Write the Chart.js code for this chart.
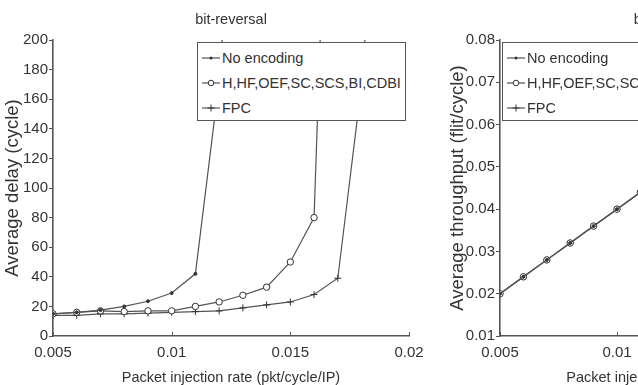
<!DOCTYPE html>
<html>
<head>
<meta charset="utf-8">
<script src="https://cdn.jsdelivr.net/npm/chart.js@4.4.1/dist/chart.umd.min.js"></script>
<style>
  html, body { margin: 0; padding: 0; background: #fff; }
  body { width: 638px; height: 385px; overflow: hidden; position: relative; }
  .wrap { position: absolute; top: 0; }
  #leftWrap { left: 0; width: 462px; height: 400px; }
  #rightWrap { left: 400px; width: 539px; height: 400px; }
  .legend {
    position: absolute;
    top: 42px;
    width: 207px;
    height: 75px;
    padding-top: 2px;
    background: #fff;
    border: 1.5px solid #555;
    box-sizing: content-box;
    font-family: "Liberation Sans", Arial, sans-serif;
    font-size: 14.5px;
    color: #333;
  }
  .legend .row { height: 25px; display: flex; align-items: center; white-space: nowrap; }
  .legend svg { margin-left: 4px; margin-right: 2px; flex: none; }
</style>
</head>
<body>
<div class="wrap" id="leftWrap"><canvas id="delayChart" width="462" height="400"></canvas></div>
<div class="wrap" id="rightWrap"><canvas id="thrChart" width="539" height="400"></canvas></div>
<div class="legend" id="legendLeft" style="left:197px"></div>
<div class="legend" id="legendRight" style="left:502px"></div>
<script>
const seriesNames = ["No encoding", "H,HF,OEF,SC,SCS,BI,CDBI", "FPC"];

// left panel: average delay (cycle) vs injection rate
const rateNoEnc = [0.005, 0.006, 0.007, 0.008, 0.009, 0.010, 0.011, 0.012, 0.013];
const delayNoEnc = [15, 16, 17.5, 20, 23.5, 29, 42, 172, 400];
const rateCoded = [0.005, 0.006, 0.007, 0.008, 0.009, 0.010, 0.011, 0.012, 0.013, 0.014, 0.015, 0.016, 0.017];
const delayCoded = [15, 16, 17, 16.5, 17, 17, 20, 23, 27.5, 33, 50, 80, 550];
const rateFpc = [0.005, 0.006, 0.007, 0.008, 0.009, 0.010, 0.011, 0.012, 0.013, 0.014, 0.015, 0.016, 0.017, 0.018, 0.019];
const delayFpc = [14, 14, 15, 15, 15.5, 16, 16.5, 17, 19, 21, 23, 28, 39, 170, 380];

// right panel: average throughput (flit/cycle), only the left part is visible
const rateThr = [0.005, 0.006, 0.007, 0.008, 0.009, 0.010, 0.011];
const thrNoEnc = [0.020, 0.024, 0.028, 0.032, 0.036, 0.040, 0.044];
const thrCoded = [0.020, 0.024, 0.028, 0.032, 0.036, 0.040, 0.044];
const thrFpc = [0.020, 0.024, 0.028, 0.032, 0.036, 0.040, 0.044];

const delayTicks = [0, 200, 20];
const thrTicks = [0.01, 0.08, 0.01];
const rateTicks = [0.005, 0.02, 0.005];

const AXIS = "#555";
const LINE = "#555";
const TEXT = "#333";
const FONT = "'Liberation Sans', Arial, sans-serif";

const markers = [
  { pointStyle: "circle", pointRadius: 1.5, pointBackgroundColor: "#333" },
  { pointStyle: "circle", pointRadius: 3.2, pointBackgroundColor: "#fff" },
  { pointStyle: "cross", pointRadius: 3.5, pointBackgroundColor: "#333" },
];

function pairs(xs, ys) {
  return xs.map((x, i) => ({ x, y: ys[i] }));
}

function makeDataset(i, xs, ys) {
  return {
    label: seriesNames[i],
    data: pairs(xs, ys),
    showLine: true,
    borderColor: LINE,
    borderWidth: 1.2,
    pointBorderColor: "#333",
    pointBorderWidth: 1,
    ...markers[i],
  };
}

const innerTicks = {
  id: "innerTicks",
  afterDraw(chart) {
    const sx = chart.scales.x;
    const ctx = chart.ctx;
    ctx.save();
    ctx.strokeStyle = AXIS;
    ctx.lineWidth = 1;
    for (const t of sx.ticks) {
      const px = Math.round(sx.getPixelForValue(t.value)) + 0.5;
      ctx.beginPath();
      ctx.moveTo(px, sx.top);
      ctx.lineTo(px, sx.top - 4);
      ctx.stroke();
    }
    ctx.restore();
  },
};

function buildOptions(cfg) {
  return {
    responsive: false,
    animation: false,
    layout: { padding: 0 },
    plugins: {
      legend: { display: false },
      tooltip: { enabled: false },
      title: {
        display: true,
        text: "bit-reversal",
        color: TEXT,
        font: { family: FONT, size: 14.5, weight: "normal" },
        padding: { top: 11, bottom: 11.6 },
      },
    },
    scales: {
      x: {
        type: "linear",
        min: rateTicks[0],
        max: rateTicks[1],
        afterFit: (s) => { s.height = 64; },
        afterBuildTicks: (s) => {
          const out = [];
          for (let v = rateTicks[0]; v <= rateTicks[1] + 1e-9; v += rateTicks[2]) out.push({ value: +v.toFixed(4) });
          s.ticks = out;
        },
        border: { display: true, color: AXIS, width: 1.6 },
        grid: { drawOnChartArea: false, drawTicks: false },
        ticks: {
          color: TEXT,
          font: { family: FONT, size: 15 },
          padding: 8,
          maxRotation: 0,
          callback: (v) => String(+(+v).toFixed(3)),
        },
        title: {
          display: true,
          text: "Packet injection rate (pkt/cycle/IP)",
          color: TEXT,
          font: { family: FONT, size: 14.5 },
          padding: { top: 0, bottom: 13 },
        },
      },
      y: {
        type: "linear",
        min: cfg.yTicks[0],
        max: cfg.yTicks[1],
        afterFit: (s) => { s.width = cfg.yWidth; },
        border: { display: true, color: AXIS, width: 1.6 },
        grid: { drawOnChartArea: false, drawTicks: true, tickLength: 4, color: AXIS },
        ticks: {
          stepSize: cfg.yTicks[2],
          color: TEXT,
          font: { family: FONT, size: 15 },
          padding: 1,
          callback: cfg.yFormat,
        },
        title: {
          display: true,
          text: cfg.yTitle,
          color: TEXT,
          font: { family: FONT, size: 18.5 },
          padding: { top: cfg.yTitlePad, bottom: 0 },
        },
      },
      // empty right-hand axis that only reserves space, so the title stays centred on the plot
      spacer: {
        type: "linear",
        position: "right",
        display: true,
        afterFit: (s) => { s.width = cfg.rightSpace; },
        border: { display: false },
        grid: { display: false },
        ticks: { display: false },
      },
    },
  };
}

new Chart(document.getElementById("delayChart"), {
  type: "scatter",
  data: {
    datasets: [
      makeDataset(0, rateNoEnc, delayNoEnc),
      makeDataset(1, rateCoded, delayCoded),
      makeDataset(2, rateFpc, delayFpc),
    ],
  },
  options: buildOptions({
    yWidth: 53,
    rightSpace: 53,
    yTicks: delayTicks,
    yTitle: "Average delay (cycle)",
    yTitlePad: 2,
    yFormat: (v) => String(v),
  }),
  plugins: [innerTicks],
});

new Chart(document.getElementById("thrChart"), {
  type: "scatter",
  data: {
    datasets: [
      makeDataset(0, rateThr, thrNoEnc),
      makeDataset(1, rateThr, thrCoded),
      makeDataset(2, rateThr, thrFpc),
    ],
  },
  options: buildOptions({
    yWidth: 100,
    rightSpace: 88,
    yTicks: thrTicks,
    yTitle: "Average throughput (flit/cycle)",
    yTitlePad: 47,
    yFormat: (v) => (+v).toFixed(2),
  }),
  plugins: [innerTicks],
});

function legendIcon(i) {
  let mark = "";
  if (i === 0) mark = '<circle cx="9" cy="6" r="1.5" fill="#333"/>';
  if (i === 1) mark = '<circle cx="9" cy="6" r="2.8" fill="#fff" stroke="#333" stroke-width="1"/>';
  if (i === 2) mark = '<path d="M9 2.5V9.5M5.5 6H12.5" stroke="#333" stroke-width="1"/>';
  return '<svg width="18" height="12"><line x1="0" y1="6" x2="18" y2="6" stroke="' + LINE + '" stroke-width="1.2"/>' + mark + "</svg>";
}

for (const id of ["legendLeft", "legendRight"]) {
  const box = document.getElementById(id);
  seriesNames.forEach((name, i) => {
    const row = document.createElement("div");
    row.className = "row";
    row.innerHTML = legendIcon(i) + "<span>" + name + "</span>";
    box.appendChild(row);
  });
}
</script>
</body>
</html>
